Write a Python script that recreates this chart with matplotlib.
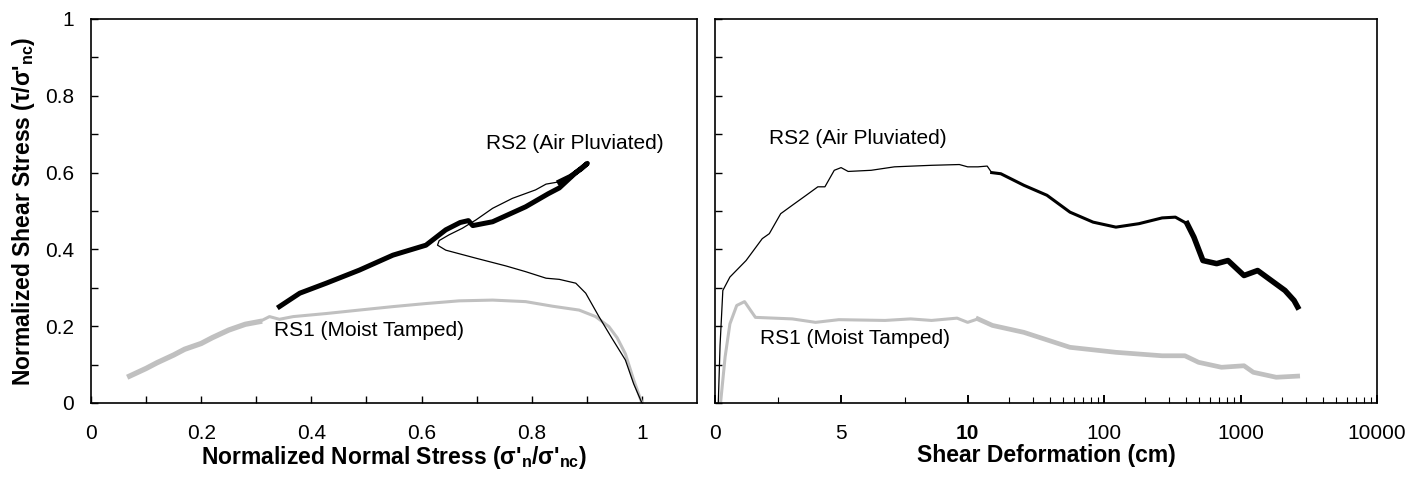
import numpy as np
import matplotlib
matplotlib.use("Agg")
import matplotlib.pyplot as plt
from matplotlib import font_manager

# ---------------- data ----------------
# Left panel: stress paths (normalized normal stress, normalized shear stress)
rs1_left_x = [1.0, 0.985, 0.97, 0.955, 0.94, 0.916, 0.886, 0.838, 0.789, 0.729, 0.668, 0.608,
              0.548, 0.487, 0.427, 0.367, 0.342, 0.324, 0.306,
              0.28, 0.25, 0.22, 0.2, 0.17, 0.15, 0.12, 0.1, 0.085, 0.07]
rs1_left_y = [0.0, 0.06, 0.128, 0.17, 0.199, 0.225, 0.242, 0.252, 0.264, 0.268, 0.266, 0.259,
              0.251, 0.242, 0.233, 0.225, 0.218, 0.225, 0.212,
              0.205, 0.19, 0.17, 0.155, 0.14, 0.125, 0.105, 0.09, 0.08, 0.07]

rs2_left_x = [1.0, 0.985, 0.970, 0.945, 0.922, 0.898, 0.880, 0.850, 0.826, 0.789, 0.753, 0.699,
              0.644, 0.629, 0.632, 0.650, 0.674, 0.699, 0.729, 0.765, 0.807, 0.826, 0.850,
              0.87, 0.89, 0.901, 0.88, 0.85, 0.83, 0.789, 0.729, 0.693, 0.685, 0.67,
              0.644, 0.608, 0.548, 0.487, 0.427, 0.379, 0.342]
rs2_left_y = [0.0, 0.05, 0.112, 0.17, 0.225, 0.286, 0.312, 0.322, 0.325, 0.342, 0.357, 0.377,
              0.398, 0.411, 0.423, 0.438, 0.455, 0.477, 0.507, 0.533, 0.555, 0.570, 0.576,
              0.59, 0.61, 0.624, 0.60, 0.56, 0.545, 0.511, 0.472, 0.462, 0.475, 0.47,
              0.451, 0.411, 0.385, 0.346, 0.312, 0.286, 0.251]

# Right panel: normalized shear stress vs shear deformation (cm)
rs1_right_x = [0.22, 0.4, 0.59, 0.86, 1.17, 1.41, 1.6, 3.06, 3.98, 4.9, 6.73, 7.74, 8.57, 9.58,
               10, 11.9, 15.2, 25.8, 56.2, 122, 266, 391, 492, 725, 1060, 1240, 1826, 2620]
rs1_right_y = [0.0, 0.12, 0.206, 0.254, 0.264, 0.241, 0.223, 0.219, 0.21, 0.217, 0.215, 0.219,
               0.215, 0.221, 0.21, 0.219, 0.202, 0.184, 0.145, 0.132, 0.123, 0.123, 0.106,
               0.093, 0.097, 0.08, 0.067, 0.07]

rs2_right_x = [0.13, 0.2, 0.31, 0.59, 1.23, 1.87, 2.15, 2.6, 3.06, 3.61, 4.07, 4.35, 4.72, 4.99,
               5.27, 6.18, 7.1, 7.83, 8.57, 9.67, 10, 11.9, 13.9, 15,
               17.5, 25.8, 38.1, 56.2, 83, 122, 180, 266, 333, 406, 455, 530, 668, 809, 1060,
               1334, 1680, 2117, 2466, 2620]
rs2_right_y = [0.0, 0.15, 0.293, 0.328, 0.371, 0.428, 0.441, 0.493, 0.515, 0.541, 0.563, 0.563,
               0.606, 0.613, 0.603, 0.606, 0.615, 0.617, 0.619, 0.621, 0.615, 0.615, 0.617, 0.60,
               0.597, 0.567, 0.541, 0.497, 0.471, 0.458, 0.467, 0.482, 0.484, 0.467, 0.432,
               0.371, 0.363, 0.371, 0.332, 0.345, 0.319, 0.293, 0.267, 0.25]

right_major_ticks = [0, 5, 10, 100, 1000, 10000]
right_major_labels = ["0", "5", "10", "100", "1000", "10000"]
left_tick_labels = ["0", "0.2", "0.4", "0.6", "0.8", "1"]

# ---------------- style ----------------
names = {f.name for f in font_manager.fontManager.ttflist}
fam = "Liberation Sans Narrow" if "Liberation Sans Narrow" in names else "Liberation Sans"
plt.rcParams["font.family"] = [fam, "DejaVu Sans"]
plt.rcParams["mathtext.fontset"] = "custom"
plt.rcParams["mathtext.rm"] = fam
plt.rcParams["mathtext.bf"] = fam + ":bold"
plt.rcParams["mathtext.it"] = fam + ":italic"

GRAY = "#c0c0c0"
W, H = 1424, 478
fig = plt.figure(figsize=(W / 100, H / 100), dpi=100)

def ax_rect(l, r, t, b):
    return [l / W, 1 - b / H, (r - l) / W, (b - t) / H]

axL = fig.add_axes(ax_rect(91, 697, 19, 403))
axR = fig.add_axes(ax_rect(715, 1377, 19, 403))

TS = 15
LS = 16.5
for ax in (axL, axR):
    for s in ax.spines.values():
        s.set_linewidth(1.2)
    ax.tick_params(which="both", direction="in", length=5, width=1, labelsize=TS, pad=15)

# ---------------- left panel ----------------
nL1 = 19
axL.plot(rs1_left_x[:nL1], rs1_left_y[:nL1], color=GRAY, lw=2.2, zorder=2)
axL.plot(rs1_left_x[nL1 - 1:], rs1_left_y[nL1 - 1:], color=GRAY, lw=3.8, zorder=2)
nL2 = 23
axL.plot(rs2_left_x[:nL2], rs2_left_y[:nL2], color="black", lw=0.9, zorder=3)
axL.plot(rs2_left_x[nL2 - 1:], rs2_left_y[nL2 - 1:], color="black", lw=3.6, zorder=3,
         solid_joinstyle="round")

axL.set_xlim(0, 1.1)
axL.set_ylim(0, 1)
axL.set_xticks(np.arange(0, 1.01, 0.1))
axL.set_xticklabels([left_tick_labels[i // 2] if i % 2 == 0 else "" for i in range(11)])
axL.set_yticks(np.arange(0, 1.01, 0.1))
axL.set_yticklabels([left_tick_labels[i // 2] if i % 2 == 0 else "" for i in range(11)])
axL.tick_params(axis="y", pad=12)
axL.set_xlabel(r"Normalized Normal Stress (σ'$_\mathbf{n}$/σ'$_\mathbf{nc}$)",
               fontsize=LS, fontweight="bold", labelpad=1)
axL.set_ylabel(r"Normalized Shear Stress (τ/σ'$_\mathbf{nc}$)",
               fontsize=LS, fontweight="bold", labelpad=6)
axL.text(0.717, 0.676, "RS2 (Air Pluviated)", fontsize=TS, va="center", ha="left")
axL.text(0.333, 0.19, "RS1 (Moist Tamped)", fontsize=TS, va="center", ha="left")

# ---------------- right panel ----------------
K = 5.4

def fwd(x):
    x = np.asarray(x, dtype=float)
    return np.where(x <= 10, x, 10 + K * (np.log10(np.maximum(x, 10)) - 1))

def inv(u):
    u = np.asarray(u, dtype=float)
    return np.where(u <= 10, u, 10 ** (1 + (np.maximum(u, 10) - 10) / K))

axR.set_xscale("function", functions=(fwd, inv))
nR1 = 16
axR.plot(rs1_right_x[:nR1], rs1_right_y[:nR1], color=GRAY, lw=2.2, zorder=2)
axR.plot(rs1_right_x[nR1 - 1:], rs1_right_y[nR1 - 1:], color=GRAY, lw=3.4, zorder=2)
nR2 = 24
nR2b = 34
axR.plot(rs2_right_x[:nR2], rs2_right_y[:nR2], color="black", lw=0.9, zorder=3)
axR.plot(rs2_right_x[nR2 - 1:nR2b], rs2_right_y[nR2 - 1:nR2b], color="black", lw=2.2, zorder=3)
axR.plot(rs2_right_x[nR2b - 1:], rs2_right_y[nR2b - 1:], color="black", lw=4.0, zorder=3,
         solid_joinstyle="round")

axR.set_xlim(0, 10000)
axR.set_ylim(0, 1)
axR.set_xticks(right_major_ticks)
axR.set_xticklabels(right_major_labels)
minor = [2.5, 7.5] + [m * d for d in (10, 100, 1000) for m in range(2, 10)]
axR.set_xticks(minor, minor=True)
axR.tick_params(axis="x", which="minor", length=4, width=0.8)
axR.tick_params(axis="x", which="major", length=6, width=1.4)
axR.get_xticklabels()[2].set_fontweight("bold")
axR.set_yticks(np.arange(0, 1.01, 0.1))
axR.set_yticklabels([])
axR.set_xlabel("Shear Deformation (cm)", fontsize=LS, fontweight="bold", labelpad=1)
axR.text(2.15, 0.689, "RS2 (Air Pluviated)", fontsize=TS, va="center", ha="left")
axR.text(1.78, 0.167, "RS1 (Moist Tamped)", fontsize=TS, va="center", ha="left")

fig.savefig("out.png", dpi=100)
